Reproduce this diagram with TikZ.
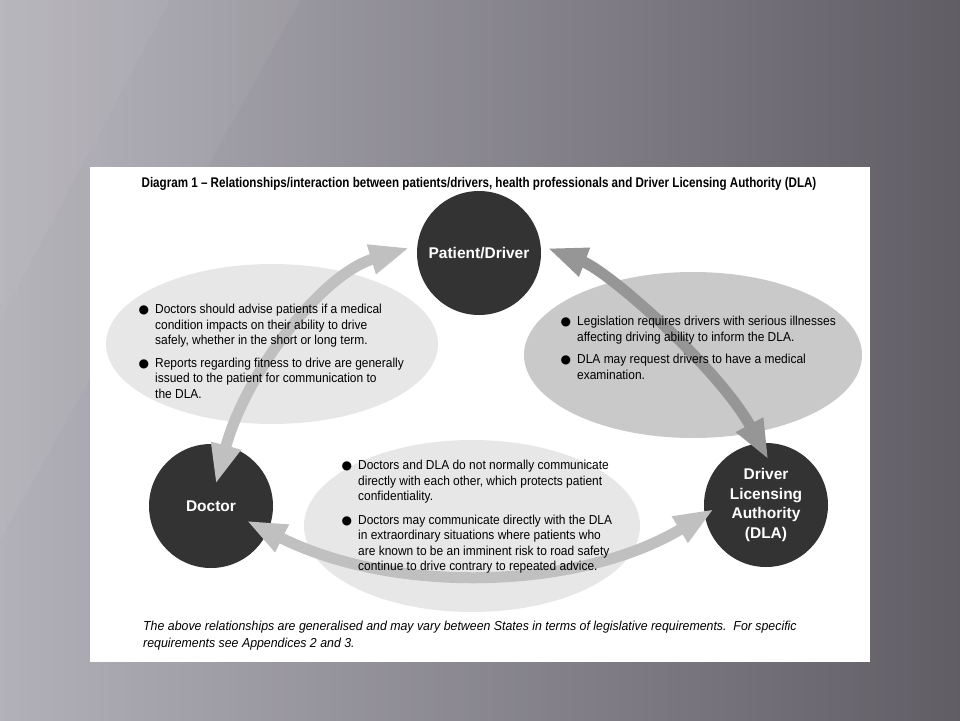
\documentclass[tikz,border=0pt]{standalone}
\usepackage{fontspec}
\setmainfont{Liberation Sans}
\newfontfamily\titlefont[FakeStretch=0.83]{Liberation Sans}
\newfontfamily\notefont[FakeStretch=0.95]{Liberation Sans}
\newfontfamily\bodyfont[FakeStretch=0.92]{Liberation Sans}
\newfontfamily\dotfont{DejaVu Sans}
\usetikzlibrary{arrows.meta}
\definecolor{slidelight}{RGB}{178,176,184}
\definecolor{slidedark}{RGB}{96,93,101}
\definecolor{circlegray}{RGB}{51,51,51}
\definecolor{bubblelight}{RGB}{231,231,231}
\definecolor{bubblemid}{RGB}{201,201,201}
\definecolor{arrowlight}{RGB}{192,192,192}
\definecolor{arrowdark}{RGB}{150,150,150}
\newcommand{\bul}{\llap{{\dotfont\fontsize{12}{12}\selectfont ●}\hspace{6pt}}}
\tikzset{
  dlacircle/.style={circle,fill=circlegray,minimum size=124pt,inner sep=0pt,
    text=white,align=center,font=\fontsize{15.5}{19.5}\selectfont\bfseries},
  dlanote/.style={anchor=north west,inner sep=0pt,align=left,
    font=\bodyfont\fontsize{13}{15.5}\selectfont},
  dlaarrow/.style={<->,>={Triangle[length=40pt,width=28pt]},line width=11pt,arrowlight},
}

\begin{document}
\begin{tikzpicture}[x=1pt,y=-1pt]
  \useasboundingbox (0,0) rectangle (960,720);
  % slide background
  \shade[left color=slidelight,right color=slidedark] (0,0) rectangle (960,720);
  \fill[white,opacity=0.05] (0,0)--(300,0)--(0,540)--cycle;
  \fill[white,opacity=0.04] (0,0)--(170,0)--(0,320)--cycle;
  \fill[white] (90,167) rectangle (870,662);

  \node[font=\titlefont\bfseries\fontsize{14}{16}\selectfont] (title) at (479,184)
    {Diagram 1 – Relationships/interaction between patients/drivers, health professionals and Driver Licensing Authority (DLA)};

  % bubbles
  \fill[bubblelight] (272,344) ellipse (166 and 80);
  \fill[bubblemid] (693,355) ellipse (169 and 83);
  \fill[bubblelight] (472,526) ellipse (168 and 86);

  \node[dlacircle] (pat) at (479,253) {Patient/Driver};
  \node[dlacircle] (doc) at (211,506) {Doctor};
  \node[dlacircle] (dla) at (766,505) {Driver\\Licensing\\Authority\\(DLA)};

  % arrows
  \draw[dlaarrow,shorten <=-40pt,shorten >=8pt] (doc.76) .. controls (245,375) and (320,275) .. (pat.173);
  \draw[dlaarrow,arrowdark,shorten <=7pt,shorten >=-19pt] (pat.7) .. controls (610,272) and (720,370) .. (dla.96);
  \draw[dlaarrow,shorten <=-24pt,shorten >=-11pt] (doc.336) .. controls (395,595) and (580,590) .. (dla.189);

  \node[dlanote] (leftnote) at (155,304)
    {\bul Doctors should advise patients if a medical\\
     condition impacts on their ability to drive\\
     safely, whether in the short or long term.\\[7pt]
     \bul Reports regarding fitness to drive are generally\\
     issued to the patient for communication to\\
     the DLA.};
  \node[dlanote] (rightnote) at (577,316)
    {\bul Legislation requires drivers with serious illnesses\\
     affecting driving ability to inform the DLA.\\[7pt]
     \bul DLA may request drivers to have a medical\\
     examination.};
  \node[dlanote] (bottomnote) at (358,460)
    {\bul Doctors and DLA do not normally communicate\\
     directly with each other, which protects patient\\
     confidentiality.\\[8pt]
     \bul Doctors may communicate directly with the DLA\\
     in extraordinary situations where patients who\\
     are known to be an imminent risk to road safety\\
     continue to drive contrary to repeated advice.};

  \node[dlanote,font=\notefont\itshape\fontsize{13}{16.5}\selectfont] (footnote) at (143,621)
    {The above relationships are generalised and may vary between States in terms of legislative requirements.\ \ For specific\\
     requirements see Appendices 2 and 3.};
\end{tikzpicture}
\end{document}
